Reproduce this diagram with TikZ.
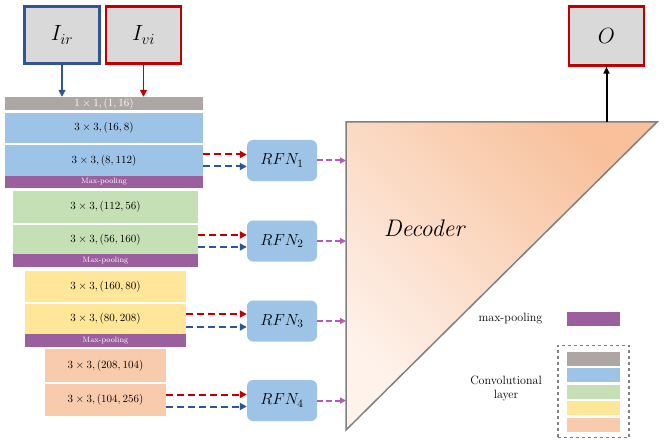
\documentclass[tikz,border=0pt]{standalone}
\usepackage{fix-cm}
\usepackage{amsmath}
\usepackage{tikz}
\usetikzlibrary{arrows.meta,fit,calc,positioning}
\definecolor{greylayer}{HTML}{AEA6A4}
\definecolor{bluelayer}{HTML}{9DC3E6}
\definecolor{greenlayer}{HTML}{C5E0B4}
\definecolor{yellowlayer}{HTML}{FFE699}
\definecolor{orangelayer}{HTML}{F8CBAD}
\definecolor{poollayer}{HTML}{9A5F9C}
\definecolor{irblue}{HTML}{2F5597}
\definecolor{vired}{HTML}{C00000}
\definecolor{rfnpurple}{HTML}{B05CB8}
\definecolor{decdark}{HTML}{F8C19C}
\definecolor{declight}{HTML}{FEF2EB}
\tikzset{
  inbox/.style={fill=black!15,line width=2.5pt,minimum width=75pt,minimum height=57pt,font=\fontsize{22}{26}\selectfont},
  conv/.style={inner sep=0pt,font=\fontsize{11}{13}\selectfont,text=black},
  pool/.style={fill=poollayer,inner sep=0pt,minimum height=12pt,text=white,font=\fontsize{7.8}{8}\selectfont},
  rfn/.style={fill=bluelayer,rounded corners=6pt,minimum width=70pt,minimum height=41pt,font=\fontsize{16}{19}\selectfont},
  tip/.style={-{Triangle[length=7pt,width=7pt]}},
  redfeed/.style={tip,draw=vired,line width=2pt,dash pattern=on 7pt off 4pt},
  bluefeed/.style={tip,draw=irblue,line width=2pt,dash pattern=on 7pt off 4pt},
  rfnout/.style={-{Triangle[length=6pt,width=6pt]},draw=rfnpurple,line width=2pt,dash pattern=on 6pt off 3pt},
  key/.style={inner sep=0pt,minimum width=53pt,minimum height=14pt}
}
\begin{document}
\begin{tikzpicture}[x=1pt,y=-1pt]
\useasboundingbox (0,0) rectangle (664,441);
% inputs
\node[inbox,draw=irblue] (Iir) at (62,35) {$I_{ir}$};
\node[inbox,draw=vired] (Ivi) at (143.5,35) {$I_{vi}$};
% encoder
\node[conv,fill=greylayer,text=white,minimum width=198pt,minimum height=13pt] (c0) at (104,103.5) {$1\times1,(1,16)$};
\node[conv,fill=bluelayer,minimum width=198pt,minimum height=30pt] (c11) at (104,128) {$3\times3,(16,8)$};
\node[conv,fill=bluelayer,minimum width=198pt,minimum height=31pt] (c12) at (104,160.5) {$3\times3,(8,112)$};
\node[pool,minimum width=198pt] (p1) at (104,182) {Max-pooling};
\node[conv,fill=greenlayer,minimum width=185pt,minimum height=32pt] (c21) at (105.5,207) {$3\times3,(112,56)$};
\node[conv,fill=greenlayer,minimum width=185pt,minimum height=29pt] (c22) at (105.5,239.5) {$3\times3,(56,160)$};
\node[pool,minimum width=185pt,minimum height=13pt] (p2) at (105.5,260.5) {Max-pooling};
\node[conv,fill=yellowlayer,minimum width=161pt,minimum height=31pt] (c31) at (105.5,286.5) {$3\times3,(160,80)$};
\node[conv,fill=yellowlayer,minimum width=161pt,minimum height=30pt] (c32) at (105.5,319) {$3\times3,(80,208)$};
\node[pool,minimum width=161pt,minimum height=13pt] (p3) at (105.5,340.5) {Max-pooling};
\node[conv,fill=orangelayer,minimum width=121pt,minimum height=33pt] (c41) at (105.5,365.5) {$3\times3,(208,104)$};
\node[conv,fill=orangelayer,minimum width=121pt,minimum height=32pt] (c42) at (105.5,400) {$3\times3,(104,256)$};
\draw[tip,irblue,line width=1.5pt] (Iir.south) -- (Iir.south |- c0.north);
\draw[tip,vired,line width=1.5pt] (Ivi.south) -- (Ivi.south |- c0.north);
% fusion
\node[rfn] (rfn1) at (282,160.5) {$RFN_1$};
\node[rfn] (rfn2) at (282,241) {$RFN_2$};
\node[rfn] (rfn3) at (282,321) {$RFN_3$};
\node[rfn] (rfn4) at (282,400.5) {$RFN_4$};
\draw[redfeed] ([yshift=6pt]rfn1.west -| c12.east) -- ([yshift=6pt]rfn1.west);
\draw[bluefeed] ([yshift=-6pt]rfn1.west -| c12.east) -- ([yshift=-6pt]rfn1.west);
\draw[redfeed] ([yshift=6pt]rfn2.west -| c22.east) -- ([yshift=6pt]rfn2.west);
\draw[bluefeed] ([yshift=-6pt]rfn2.west -| c22.east) -- ([yshift=-6pt]rfn2.west);
\draw[redfeed] ([yshift=7pt]rfn3.west -| c32.east) -- ([yshift=7pt]rfn3.west);
\draw[bluefeed] ([yshift=-6pt]rfn3.west -| c32.east) -- ([yshift=-6pt]rfn3.west);
\draw[redfeed] ([yshift=6pt]rfn4.west -| c42.east) -- ([yshift=6pt]rfn4.west);
\draw[bluefeed] ([yshift=-6pt]rfn4.west -| c42.east) -- ([yshift=-6pt]rfn4.west);
% decoder
\coordinate (dtl) at (346,122);
\coordinate (dtr) at (657,122);
\coordinate (dbl) at (346,430);
\shade[top color=decdark,bottom color=declight,shading angle=-45] (dtl) -- (dtr) -- (dbl) -- cycle;
\draw[draw=black!50,line width=1.5pt,line join=miter] (dtl) -- (dtr) -- (dbl) -- cycle;
\node[font=\fontsize{24}{28}\selectfont\itshape] (dec) at (424,228) {Decoder};
\foreach \i in {1,...,4}
  \draw[rfnout] (rfn\i.east) -- (rfn\i.east -| dtl);
% output
\node[inbox,draw=vired,minimum height=59pt] (out) at (606.5,36) {$O$};
\draw[-{Triangle[length=7pt,width=6pt]},line width=2pt] (out.south |- dtl) -- (out.south);
% legend
\node[key,fill=poollayer] (kpool) at (593.5,318.5) {};
\node[font=\fontsize{12}{14}\selectfont,left=21pt of kpool] (tpool) {max-pooling};
\node[key,fill=greylayer] (k0) at (593.5,358.5) {};
\node[key,fill=bluelayer] (k1) at (593.5,375) {};
\node[key,fill=greenlayer] (k2) at (593.5,391.5) {};
\node[key,fill=yellowlayer] (k3) at (593.5,408) {};
\node[key,fill=orangelayer] (k4) at (593.5,424.5) {};
\node[fit=(k0)(k4),draw=black!50,dashed,line width=1.5pt,inner xsep=9pt,inner ysep=6pt] (kbox) {};
\node[font=\fontsize{12}{14}\selectfont,align=center] (tconv) at (506,388) {Convolutional\\layer};
\end{tikzpicture}
\end{document}
